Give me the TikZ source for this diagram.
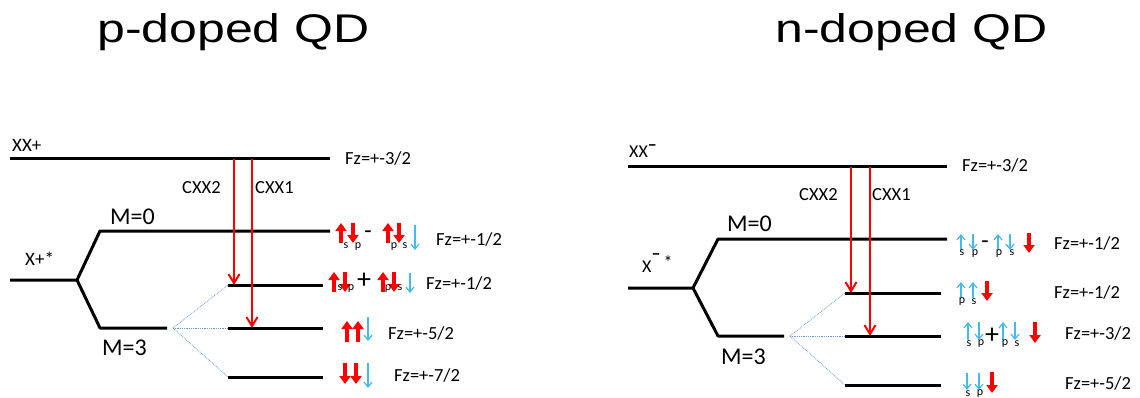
\documentclass[tikz,border=0pt]{standalone}
\usepackage{fontspec}
\setmainfont{Carlito}
\newfontfamily\titlefont{Liberation Sans}
\usetikzlibrary{arrows.meta}
\definecolor{spinblue}{RGB}{70,185,240}
\definecolor{dotblue}{RGB}{110,150,215}
\newcommand\redup[3]{\draw[bigspin] (#1,#3) -- (#1,#2);}
\newcommand\reddn[3]{\draw[bigspin] (#1,#2) -- (#1,#3);}
\newcommand\blueup[3]{\draw[thinspin] (#1,#3) -- (#1,#2);}
\newcommand\bluedn[3]{\draw[thinspin] (#1,#2) -- (#1,#3);}
\begin{document}
\begin{tikzpicture}[x=1pt,y=-1pt,
  lvl/.style={line width=3pt, line join=round},
  trans/.style={red, line width=2pt, -{Straight Barb[length=9pt,width=11pt,line width=2pt]}},
  bigspin/.style={red, line width=4.6pt, -{Triangle[length=8pt,width=11pt]}},
  thinspin/.style={spinblue, line width=1.2pt, -{Straight Barb[length=5pt,width=8pt,line width=1.2pt]}},
  split/.style={dotblue, line width=0.8pt, densely dotted},
  ttl/.style={font=\titlefont\fontsize{40}{40}\selectfont, inner sep=0, anchor=base west},
  lbl/.style={font=\fontsize{18.5}{20}\selectfont, inner sep=0, anchor=west},
  mlbl/.style={font=\fontsize{24}{26}\selectfont, inner sep=0, anchor=west},
  sub/.style={font=\fontsize{12}{13}\selectfont, inner sep=0},
  sgn/.style={font=\fontsize{24}{26}\selectfont, inner sep=0},
  bsgn/.style={font=\fontsize{28}{28}\selectfont, inner sep=0}]
\useasboundingbox (0,0) rectangle (1140,398);

% titles
\node[ttl] (tp) at (97,43) {\scalebox{1.25}[1]{p-doped QD}};
\node[ttl] (tn) at (775,43) {\scalebox{1.25}[1]{n-doped QD}};

% ================= p-doped =================
\draw[lvl] (10,159) -- (330,159);
\draw[lvl] (10,280) -- (77,280) -- (100,231) -- (330,231);
\draw[lvl] (77,280) -- (100,328) -- (167,328);
\draw[lvl] (228,285) -- (323,285);
\draw[lvl] (228,328) -- (323,328);
\draw[lvl] (228,377) -- (323,377);

\coordinate (pS) at (173,328);
\coordinate (pL1) at (228,285);
\coordinate (pL2) at (228,328);
\coordinate (pL3) at (228,377);
\draw[split] (pS) -- (pL1);
\draw[split] (pS) -- (pL2);
\draw[split] (pS) -- (pL3);

\coordinate (pA2) at (234,159);
\coordinate (pB2) at (234,285);
\coordinate (pA1) at (252,159);
\coordinate (pB1) at (252,328);
\draw[trans] (pA2) -- (pB2);
\draw[trans] (pA1) -- (pB1);

\node[lbl, font=\fontsize{19}{20}\selectfont] (pxx) at (12,145) {XX+};
\node[lbl, font=\fontsize{19}{20}\selectfont] (px) at (25,259) {X+*};
\node[mlbl] (pm0) at (110,217) {M=0};
\node[mlbl] (pm3) at (102,348) {M=3};
\node[lbl] (pc2) at (182,188) {CXX2};
\node[lbl] (pc1) at (255,188) {CXX1};

\node[lbl] (pf0) at (345,158) {Fz=+-3/2};
\node[lbl] (pf1) at (436,239) {Fz=+-1/2};
\node[lbl] (pf2) at (426,283) {Fz=+-1/2};
\node[lbl] (pf3) at (388,333) {Fz=+-5/2};
\node[lbl] (pf4) at (394,375) {Fz=+-7/2};

% spins row 1
\redup{341}{223}{243} \reddn{353}{223}{243}
\node[sub] (ps1) at (346,246) {s};
\node[sub] (pp1) at (358,247) {p};
\node[sgn] (pm1) at (368,235) {-};
\redup{388}{223}{243} \reddn{399}{223}{243}
\node[sub] (pp1b) at (394,247) {p};
\node[sub] (ps1b) at (405,246) {s};
\bluedn{415}{225}{250}
% spins row 2
\redup{334}{272}{292} \reddn{345}{272}{292}
\node[sub] (ps2) at (340,288) {s};
\node[sub] (pp2) at (351,289) {p};
\node[bsgn] (ppl2) at (364,281) {+};
\redup{383}{272}{292} \reddn{394}{272}{292}
\node[sub] (pp2b) at (388,289) {p};
\node[sub] (ps2b) at (400,288) {s};
\bluedn{410}{273}{293}
% spins row 3
\redup{347}{321}{342} \redup{358}{321}{342}
\bluedn{368}{317}{341}
% spins row 4
\reddn{345}{363}{384} \reddn{356}{363}{384}
\bluedn{368}{363}{388}

% ================= n-doped =================
\draw[lvl] (628,167) -- (947,167);
\draw[lvl] (628,288) -- (693,288) -- (718,239) -- (947,239);
\draw[lvl] (693,288) -- (718,336) -- (784,336);
\draw[lvl] (845,293) -- (941,293);
\draw[lvl] (845,336) -- (941,336);
\draw[lvl] (845,385) -- (941,385);

\coordinate (nS) at (790,336);
\coordinate (nL1) at (845,293);
\coordinate (nL2) at (845,336);
\coordinate (nL3) at (845,385);
\draw[split] (nS) -- (nL1);
\draw[split] (nS) -- (nL2);
\draw[split] (nS) -- (nL3);

\coordinate (nA2) at (851,167);
\coordinate (nB2) at (851,293);
\coordinate (nA1) at (870,167);
\coordinate (nB1) at (870,336);
\draw[trans] (nA2) -- (nB2);
\draw[trans] (nA1) -- (nB1);

\node[lbl, anchor=base west, font=\fontsize{18}{20}\selectfont] (nxx) at (629,158) {XX\raisebox{7pt}{\textbf{–}}};
\node[lbl, anchor=base west, font=\fontsize{18}{20}\selectfont] (nx) at (642,272) {X\raisebox{13pt}{\textbf{–}}\,\raisebox{4pt}{*}};
\node[mlbl] (nm0) at (727,224) {M=0};
\node[mlbl] (nm3) at (721,357) {M=3};
\node[lbl] (nc2) at (799,195) {CXX2};
\node[lbl] (nc1) at (872,195) {CXX1};

\node[lbl] (nf0) at (962,165) {Fz=+-3/2};
\node[lbl] (nf1) at (1054,243) {Fz=+-1/2};
\node[lbl] (nf2) at (1054,292) {Fz=+-1/2};
\node[lbl] (nf3) at (1065,333) {Fz=+-3/2};
\node[lbl] (nf4) at (1065,383) {Fz=+-5/2};

% spins row 1
\blueup{961}{234}{250} \bluedn{973}{234}{250}
\node[sub] (ns1) at (962,253) {s};
\node[sub] (np1) at (975,254) {p};
\node[sgn] (nm1) at (985,245) {-};
\blueup{998}{234}{250} \bluedn{1010}{234}{250}
\node[sub] (np1b) at (999,254) {p};
\node[sub] (ns1b) at (1012,253) {s};
\reddn{1029}{233}{253}
% spins row 2
\blueup{961}{282}{298} \blueup{973}{282}{298}
\node[sub] (np2) at (962,302) {p};
\node[sub] (ns2) at (974,302) {s};
\reddn{987}{281}{301}
% spins row 3
\blueup{968}{322}{340} \bluedn{979}{322}{340}
\node[sub] (ns3) at (969,344) {s};
\node[sub] (np3) at (981,344) {p};
\node[bsgn] (npl3) at (992,336) {+};
\blueup{1003}{322}{340} \bluedn{1015}{322}{340}
\node[sub] (np3b) at (1005,344) {p};
\node[sub] (ns3b) at (1017,344) {s};
\reddn{1035}{322}{343}
% spins row 4
\bluedn{967}{373}{390} \bluedn{979}{373}{390}
\node[sub] (ns4) at (968,394) {s};
\node[sub] (np4) at (980,394) {p};
\reddn{992}{372}{393}
\end{tikzpicture}
\end{document}
